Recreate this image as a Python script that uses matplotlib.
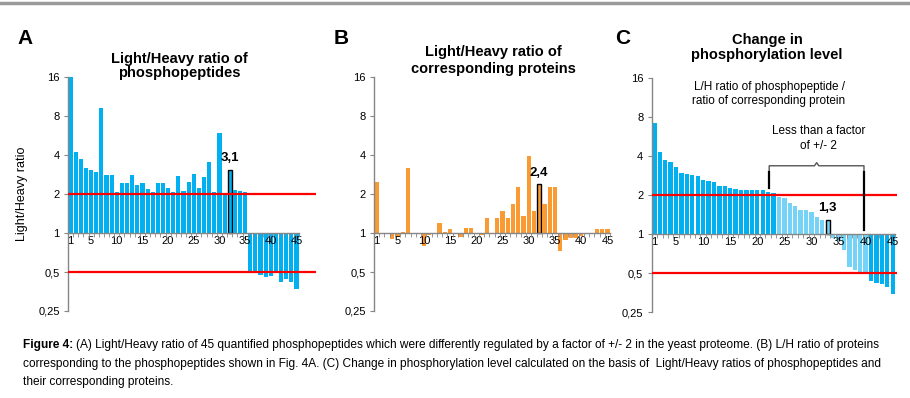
import numpy as np
import matplotlib
matplotlib.use("Agg")
import matplotlib.pyplot as plt
from matplotlib.ticker import FixedLocator, FixedFormatter, NullFormatter

plt.rcParams['font.family'] = ['Liberation Sans', 'DejaVu Sans']

# --- data ---
peptide_ids = list(range(1, 46))
pep_ratio = [16, 4.27, 3.72, 3.21, 3.06, 2.98, 9.2, 2.79, 2.82, 2.07,
             2.46, 2.43, 2.8, 2.37, 2.46, 2.2, 2.08, 2.42, 2.43, 2.22,
             2.08, 2.75, 2.1, 2.5, 2.87, 2.25, 2.7, 3.53, 2.08, 5.9,
             2.05, 3.1, 2.16, 2.13, 2.07, 0.5, 0.49, 0.477, 0.458, 0.47,
             0.49, 0.42, 0.44, 0.42, 0.37]
prot_ratio = [2.48, 0.98, 1.0, 0.90, 0.93, 1.02, 3.18, 1.0, 1.01, 0.79,
              0.96, 0.98, 1.19, 1.02, 1.08, 1.0, 0.94, 1.09, 1.1, 1.0,
              0.965, 1.30, 1.01, 1.30, 1.49, 1.30, 1.67, 2.28, 1.36, 3.95,
              1.48, 2.4, 1.67, 2.28, 2.28, 0.73, 0.89, 0.915, 0.91, 0.955,
              1.0, 0.98, 1.085, 1.075, 1.085]
change_ratio = [7.2, 4.35, 3.75, 3.62, 3.33, 2.97, 2.90, 2.85, 2.80, 2.63,
                2.58, 2.52, 2.36, 2.35, 2.29, 2.22, 2.21, 2.2, 2.2, 2.2,
                2.2, 2.13, 2.07, 1.95, 1.90, 1.74, 1.64, 1.54, 1.54, 1.49,
                1.37, 1.29, 1.3, 0.94, 0.88, 0.76, 0.556, 0.53, 0.5, 0.5,
                0.436, 0.42, 0.41, 0.39, 0.344]
ytick_vals = [0.25, 0.5, 1, 2, 4, 8, 16]
ytick_labels = ["0,25", "0,5", "1", "2", "4", "8", "16"]
xtick_vals = [1, 5, 10, 15, 20, 25, 30, 35, 40, 45]
highlight = {"A": (32, "3,1"), "B": (32, "2,4"), "C": (33, "1,3")}
# C: inside the +/-2 band the bars are lighter
small_change = list(range(24, 41))

BLUE = '#00B0F0'
LIGHTBLUE = '#74D3F6'
ORANGE = '#F99A33'
RED = '#FF0000'
GREY = '#868686'

W, H = 910, 398
fig = plt.figure(figsize=(W / 100, H / 100), dpi=100)


def px(x0, y0, x1, y1):
	# pixel box -> figure fraction rect
	return [x0 / W, 1 - y1 / H, (x1 - x0) / W, (y1 - y0) / H]


def setup(ax, xmax):
	ax.set_yscale('log', base=2)
	ax.set_ylim(0.25, 16)
	ax.set_xlim(0.5, xmax)
	for s in ['top', 'right']:
		ax.spines[s].set_visible(False)
	ax.spines['left'].set_color(GREY)
	ax.spines['bottom'].set_color(GREY)
	ax.spines['bottom'].set_position(('data', 1))
	ax.spines['bottom'].set_bounds(0.5, 45.5)
	ax.spines['left'].set_linewidth(1)
	ax.spines['bottom'].set_linewidth(1)
	ax.yaxis.set_major_locator(FixedLocator(ytick_vals))
	ax.yaxis.set_major_formatter(FixedFormatter(ytick_labels))
	ax.yaxis.set_minor_formatter(NullFormatter())
	ax.yaxis.set_minor_locator(FixedLocator([]))
	ax.tick_params(axis='y', length=3, color=GREY, labelsize=8, pad=3)
	ax.set_xticks(xtick_vals)
	ax.set_xticks(np.arange(0.5, 46, 1), minor=True)
	ax.tick_params(axis='x', which='major', length=0, labelsize=8, pad=2)
	ax.tick_params(axis='x', which='minor', length=3, color=GREY)
	ax.xaxis.set_zorder(5)


def draw_bars(ax, vals, colors, hl):
	vals = np.array(vals)
	bars = ax.bar(peptide_ids, vals - 1, bottom=1, width=0.8, color=colors, linewidth=0, zorder=2)
	idx, txt = hl
	b = bars[idx - 1]
	b.set_edgecolor('black')
	b.set_linewidth(1)
	ax.text(idx, vals[idx - 1] * 1.1, txt, ha='center', va='bottom',
			fontsize=9.5, fontweight='bold', zorder=5)


# A
axA = fig.add_axes(px(68, 77.3, 316, 311))
setup(axA, 48.8)
draw_bars(axA, pep_ratio, BLUE, highlight["A"])
for y in (2, 0.5):
	axA.axhline(y, color=RED, lw=1.6, zorder=4)
axA.set_ylabel("Light/Heavy ratio", fontsize=9, labelpad=7)

# B
axB = fig.add_axes(px(374, 77.3, 620, 311))
setup(axB, 47.4)
draw_bars(axB, prot_ratio, ORANGE, highlight["B"])

# C
axC = fig.add_axes(px(651.7, 78.3, 897, 312.3))
setup(axC, 45.8)
colsC = [LIGHTBLUE if i in small_change else BLUE for i in peptide_ids]
draw_bars(axC, change_ratio, colsC, highlight["C"])
for y in (2, 0.5):
	axC.axhline(y, color=RED, lw=1.6, zorder=4)

# bracket over the +/-2 range
xl, xr, xm = 22.2, 39.7, 30.96
yb = 3.38
axC.plot([xl, xl, xm - 0.4, xm, xm + 0.4, xr, xr],
		 [3.04, yb, yb, 3.57, yb, yb, 3.04],
		 color='#555555', lw=1, clip_on=False, zorder=6)
axC.plot([xl, xl], [3.04, 2.28], color='black', lw=1.6, zorder=6)
axC.plot([xr, xr], [3.04, 1.08], color='black', lw=1.6, zorder=6)

# titles and panel letters
fig.text(179 / W, 1 - 66 / H, "Light/Heavy ratio of\nphosphopeptides", ha='center', va='center',
		 fontsize=10.5, fontweight='bold', linespacing=1.05)
fig.text(493 / W, 1 - 60.5 / H, "Light/Heavy ratio of\ncorresponding proteins", ha='center', va='center',
		 fontsize=10.5, fontweight='bold', linespacing=1.2)
fig.text(767 / W, 1 - 47.5 / H, "Change in\nphosphorylation level", ha='center', va='center',
		 fontsize=10.5, fontweight='bold', linespacing=1.15)
for letter, x in (("A", 25), ("B", 341), ("C", 623)):
	fig.text(x / W, 1 - 39 / H, letter, ha='center', va='center', fontsize=15, fontweight='bold')

fig.text(769 / W, 1 - 94 / H, "L/H ratio of phosphopeptide /\nratio of corresponding protein",
		 ha='center', va='center', fontsize=8.5, linespacing=1.25)
fig.text(818.7 / W, 1 - 138.5 / H, "Less than a factor\nof +/- 2",
		 ha='center', va='center', fontsize=8.5, linespacing=1.25)

# grey rule at the top of the page
fig.add_artist(plt.Line2D([0, 1], [1 - 2.5 / H, 1 - 2.5 / H], color='#9a9a9a', lw=2.5))

# caption
cap_font = ['Liberation Sans Narrow', 'Liberation Sans', 'DejaVu Sans']
cap_size = 8.6
cap_lines = [
	"(A) Light/Heavy ratio of 45 quantified phosphopeptides which were differently regulated by a factor of +/- 2 in the yeast proteome. (B) L/H ratio of proteins",
	"corresponding to the phosphopeptides shown in Fig. 4A. (C) Change in phosphorylation level calculated on the basis of  Light/Heavy ratios of phosphopeptides and",
	"their corresponding proteins.",
]
cap_y = [345, 363.5, 382]
renderer = fig.canvas.get_renderer()
t = fig.text(23 / W, 1 - cap_y[0] / H, "Figure 4:", family=cap_font, fontsize=cap_size,
			 fontweight='bold', va='center', ha='left')
bb = t.get_window_extent(renderer)
fig.text((bb.x1 + 3) / W, 1 - cap_y[0] / H, cap_lines[0], family=cap_font, fontsize=cap_size,
		 va='center', ha='left')
for line, y in zip(cap_lines[1:], cap_y[1:]):
	fig.text(23 / W, 1 - y / H, line, family=cap_font, fontsize=cap_size, va='center', ha='left')

fig.savefig("out.png", dpi=100)
